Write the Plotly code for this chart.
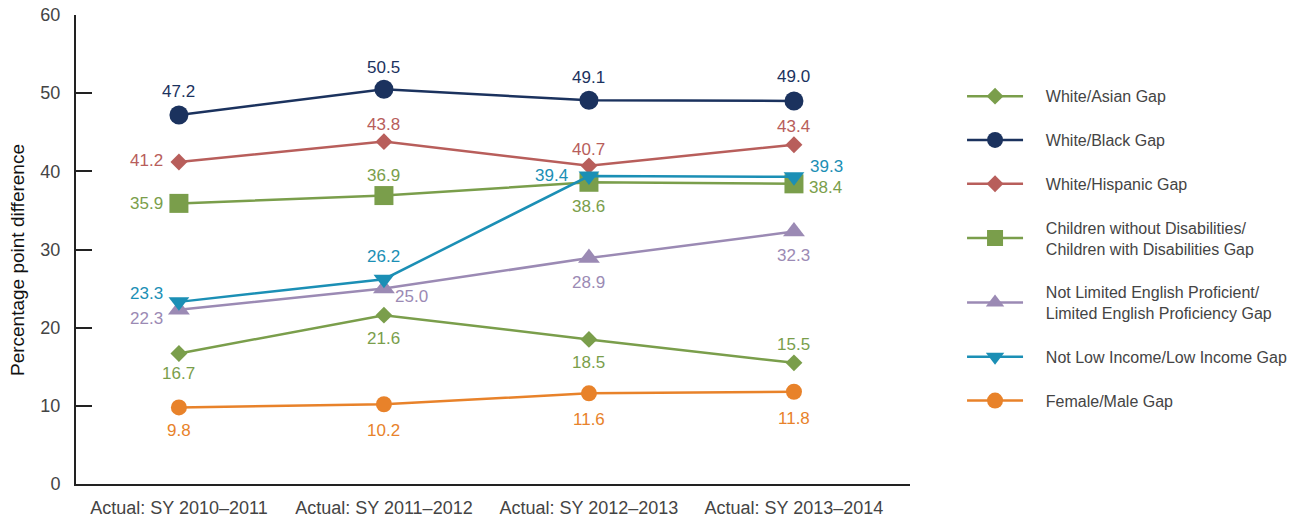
import plotly.graph_objects as go

categories = ["Actual: SY 2010–2011", "Actual: SY 2011–2012", "Actual: SY 2012–2013", "Actual: SY 2013–2014"]

white_asian = [16.7, 21.6, 18.5, 15.5]
white_black = [47.2, 50.5, 49.1, 49.0]
white_hispanic = [41.2, 43.8, 40.7, 43.4]
disabilities = [35.9, 36.9, 38.6, 38.4]
lep = [22.3, 25.0, 28.9, 32.3]
low_income = [23.3, 26.2, 39.4, 39.3]
female_male = [9.8, 10.2, 11.6, 11.8]

series_names = [
    ["White/Asian Gap"],
    ["White/Black Gap"],
    ["White/Hispanic Gap"],
    ["Children without Disabilities/", "Children with Disabilities Gap"],
    ["Not Limited English Proficient/", "Limited English Proficiency Gap"],
    ["Not Low Income/Low Income Gap"],
    ["Female/Male Gap"],
]
series_values = [white_asian, white_black, white_hispanic, disabilities, lep, low_income, female_male]

# styles
colors = ["#7a9e4b", "#1b325e", "#b85e5b", "#7a9e4b", "#9b8ab4", "#1b8fb5", "#e8822a"]
symbols = ["diamond", "circle", "diamond", "square", "triangle-up", "triangle-down", "circle"]
msizes = [13, 19, 13, 19, 19, 18, 16]
# label offsets (px) per point: (xshift, yshift)
label_offsets = [
    [(0, -20), (0, -23), (0, -23), (0, 18)],
    [(0, 24), (0, 22), (0, 23), (0, 24)],
    [(-32, 1), (0, 17), (0, 16), (0, 18)],
    [(-32, 0), (0, 20), (0, -24), (32, -4)],
    [(-32, -9), (28, -8), (0, -24), (0, -24)],
    [(-32, 8), (0, 23), (-37, 1), (33, 10)],
    [(0, -23), (0, -26), (0, -26), (0, -27)],
]
pad = "\u00a0" * 4

x_idx = list(range(len(categories)))
fig = go.Figure()
annotations = []
for i, (name, vals) in enumerate(zip(series_names, series_values)):
    fig.add_trace(go.Scatter(
        x=x_idx, y=vals, name="<br>".join(pad + s for s in name), mode="lines+markers",
        line=dict(color=colors[i], width=2.5),
        marker=dict(symbol=symbols[i], size=msizes[i], color=colors[i]),
        legendgroup=f"g{i}",
    ))
    for j, v in enumerate(vals):
        dx, dy = label_offsets[i][j]
        annotations.append(dict(
            x=x_idx[j], y=v, text=f"{v:.1f}", showarrow=False,
            xshift=dx, yshift=dy, font=dict(size=17, color=colors[i]),
        ))

annotations.append(dict(
    xref="paper", yref="paper", x=-0.0707, y=0.4776, xanchor="center", yanchor="middle",
    text="Percentage point difference", textangle=-90, showarrow=False,
    font=dict(size=19, color="#111111"), borderpad=0,
))

fig.update_layout(
    width=1304, height=518,
    margin=dict(l=76, r=394, t=15, b=34, autoexpand=False),
    paper_bgcolor="white", plot_bgcolor="white",
    font=dict(family="Liberation Sans, Arial, sans-serif", color="#444444"),
    annotations=annotations,
    showlegend=True,
    legend=dict(
        x=1.0624, y=0.863, xanchor="left", yanchor="top",
        font=dict(size=16, color="#444444"),
        tracegroupgap=20, itemwidth=56,
    ),
    xaxis=dict(
        range=[-0.502, 3.566], tickmode="array", tickvals=x_idx, ticktext=categories,
        showline=True, linecolor="#222222", linewidth=2, showgrid=False, zeroline=False,
        ticks="", tickfont=dict(size=18, color="#444444"), automargin=False,
        ticklabelstandoff=6, ticklabeloverflow="allow",
    ),
    yaxis=dict(
        range=[0, 60], tickvals=[0, 10, 20, 30, 40, 50, 60],
        showline=True, linecolor="#222222", linewidth=2, showgrid=False, zeroline=False,
        ticks="inside", ticklen=16, tickwidth=2, tickcolor="#222222",
        tickfont=dict(size=18, color="#444444"), ticklabelstandoff=10, automargin=False,
        ticklabeloverflow="allow",
    ),
)

fig.write_html(
    "out.html",
    config={"displayModeBar": False},
    post_script="document.body.style.margin='0';document.body.style.overflow='hidden';",
)
